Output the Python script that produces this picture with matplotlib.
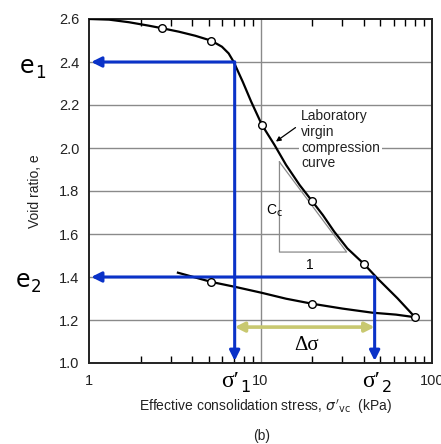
import matplotlib
matplotlib.use("Agg")
import matplotlib.pyplot as plt
from matplotlib.ticker import FixedLocator, NullFormatter, FixedFormatter

# ---- data ----
virgin_x = [1, 1.31, 1.71, 2.23, 2.67, 3.34, 4.17, 5.17, 5.96, 6.52, 6.97, 7.88, 8.83, 10.2,
            12.07, 14.1, 16.9, 19.9, 23.1, 26.9, 32.1, 40.2, 48.0, 62.9, 79.6]
virgin_y = [2.60, 2.597, 2.585, 2.569, 2.557, 2.541, 2.522, 2.499, 2.471, 2.440, 2.401, 2.308, 2.215, 2.107,
            2.014, 1.921, 1.828, 1.755, 1.688, 1.611, 1.533, 1.46, 1.394, 1.301, 1.213]
virgin_pts_x = [2.67, 5.17, 10.2, 19.9, 40.2, 79.6]
virgin_pts_y = [2.557, 2.499, 2.107, 1.755, 1.46, 1.213]

unload_x = [3.30, 5.17, 7.22, 10.1, 14.1, 19.9, 30.1, 44.9, 61.7, 79.6]
unload_y = [1.420, 1.377, 1.353, 1.327, 1.299, 1.276, 1.253, 1.234, 1.225, 1.213]
unload_pts_x = [5.17, 19.9]
unload_pts_y = [1.377, 1.276]

e1, e2 = 2.40, 1.40
sig1, sig2 = 7.07, 46.3
dsig_y = 1.167

cc_tri_x = [12.9, 12.9, 31.8]
cc_tri_y = [1.935, 1.516, 1.516]

yticks = [1.0, 1.2, 1.4, 1.6, 1.8, 2.0, 2.2, 2.4, 2.6]
ytick_labels = ["1.0", "1.2", "1.4", "1.6", "1.8", "2.0", "2.2", "2.4", "2.6"]
xticks = [1, 10, 100]
xtick_labels = ["1", "10", "100"]

W, H = 441, 444
fig = plt.figure(figsize=(W / 100, H / 100), dpi=100)
ax = fig.add_axes([89 / W, 1 - 363 / H, (432 - 89) / W, (363 - 19) / H])

blue = "#0a32c8"
yellow = "#c8c870"
grid_c = "#8a8a8a"
tfont = "Liberation Sans"

ax.set_xscale("log")
ax.set_xlim(1, 100)
ax.set_ylim(1.0, 2.6)

# grid
for yv in yticks[1:-1]:
    ax.axhline(yv, color=grid_c, lw=1.0, zorder=1)
ax.axvline(10, color=grid_c, lw=1.0, zorder=1)

# Cc triangle
ax.plot(cc_tri_x + [cc_tri_x[0]], cc_tri_y + [cc_tri_y[0]], color="#8a8a8a", lw=0.9, zorder=2)

# curves
ax.plot(virgin_x, virgin_y, color="black", lw=1.6, zorder=4, solid_joinstyle="round")
ax.plot(unload_x, unload_y, color="black", lw=1.6, zorder=4, solid_joinstyle="round")
ax.plot(virgin_pts_x, virgin_pts_y, "o", mfc="white", mec="black", ms=5.5, mew=1.0, zorder=6)
ax.plot(unload_pts_x, unload_pts_y, "o", mfc="white", mec="black", ms=5.5, mew=1.0, zorder=6)

# blue arrows
ap = dict(arrowstyle="-|>", color=blue, lw=2.2, mutation_scale=15, shrinkA=0, shrinkB=0)
ax.annotate("", xy=(1.03, e1), xytext=(sig1, e1), arrowprops=ap, zorder=5, annotation_clip=False)
ax.annotate("", xy=(sig1, 1.01), xytext=(sig1, e1), arrowprops=ap, zorder=5, annotation_clip=False)
ax.annotate("", xy=(1.03, e2), xytext=(sig2, e2), arrowprops=ap, zorder=5, annotation_clip=False)
ax.annotate("", xy=(sig2, 1.01), xytext=(sig2, e2), arrowprops=ap, zorder=5, annotation_clip=False)

# delta sigma arrow
ax.annotate("", xy=(sig1, dsig_y), xytext=(sig2, dsig_y),
            arrowprops=dict(arrowstyle="<|-|>", color=yellow, lw=2.6, mutation_scale=14,
                            shrinkA=0, shrinkB=0), zorder=5)
ax.text(18.5, 1.08, "Δσ", fontsize=15, family="Liberation Serif", ha="center", va="center", zorder=7)

# annotation text
ax.text(17.3, 2.18, "Laboratory\nvirgin\ncompression\ncurve", fontsize=10, family=tfont,
        ha="left", va="top", linespacing=1.15, color="#222222", zorder=7,
        bbox=dict(facecolor="white", edgecolor="none", pad=1.5))
ax.annotate("", xy=(12.3, 2.03), xytext=(16.0, 2.095),
            arrowprops=dict(arrowstyle="-|>", color="black", lw=0.9, mutation_scale=7,
                            shrinkA=0, shrinkB=0), zorder=7)
ax.text(10.8, 1.71, r"C$_\mathrm{c}$", fontsize=10, family=tfont, ha="left", va="center", zorder=7)
ax.text(19.5, 1.455, "1", fontsize=10, family=tfont, ha="center", va="center", zorder=7)

# ticks
ax.xaxis.set_major_locator(FixedLocator(xticks))
ax.xaxis.set_major_formatter(FixedFormatter(xtick_labels))
minors = [m * d for d in (1, 10) for m in range(2, 10)]
ax.xaxis.set_minor_locator(FixedLocator(minors))
ax.xaxis.set_minor_formatter(NullFormatter())
ax.tick_params(axis="x", which="minor", direction="in", length=5, width=1.0, top=True, bottom=True)
ax.tick_params(axis="x", which="major", direction="in", length=0, pad=8, labelsize=10.5)
ax.set_yticks(yticks)
ax.set_yticklabels(ytick_labels)
ax.tick_params(axis="y", direction="in", length=0, pad=7, labelsize=10.5)
for lab in ax.get_xticklabels() + ax.get_yticklabels():
    lab.set_family(tfont)
    lab.set_color("#222222")
for s in ax.spines.values():
    s.set_linewidth(1.4)
    s.set_color("#222222")

# figure-level labels
def P(x, y):
    return (x / W, 1 - y / H)

fig.text(*P(35, 191), "Void ratio, e", rotation=90, fontsize=10, family=tfont,
         ha="center", va="center", color="#222222")
fig.text(*P(265, 407), r"Effective consolidation stress, $\sigma'_{\mathrm{vc}}$  (kPa)",
         fontsize=10, family=tfont, ha="center", va="center", color="#222222")
fig.text(*P(262, 436), "(b)", fontsize=10, family=tfont, ha="center", va="center", color="#222222")

fig.text(*P(27, 66), "e", fontsize=17, family="DejaVu Sans", ha="center", va="center")
fig.text(*P(40, 73), "1", fontsize=12, family="DejaVu Sans", ha="center", va="center")
fig.text(*P(23, 280), "e", fontsize=17, family="DejaVu Sans", ha="center", va="center")
fig.text(*P(36, 287), "2", fontsize=12, family="DejaVu Sans", ha="center", va="center")

fig.text(*P(230, 381), "σ′", fontsize=17, family="Liberation Serif", ha="center", va="center")
fig.text(*P(245, 388), "1", fontsize=11.5, family="DejaVu Sans", ha="center", va="center")
fig.text(*P(371, 381), "σ′", fontsize=17, family="Liberation Serif", ha="center", va="center")
fig.text(*P(387, 388), "2", fontsize=11.5, family="DejaVu Sans", ha="center", va="center")

fig.savefig("out.png", dpi=100)
